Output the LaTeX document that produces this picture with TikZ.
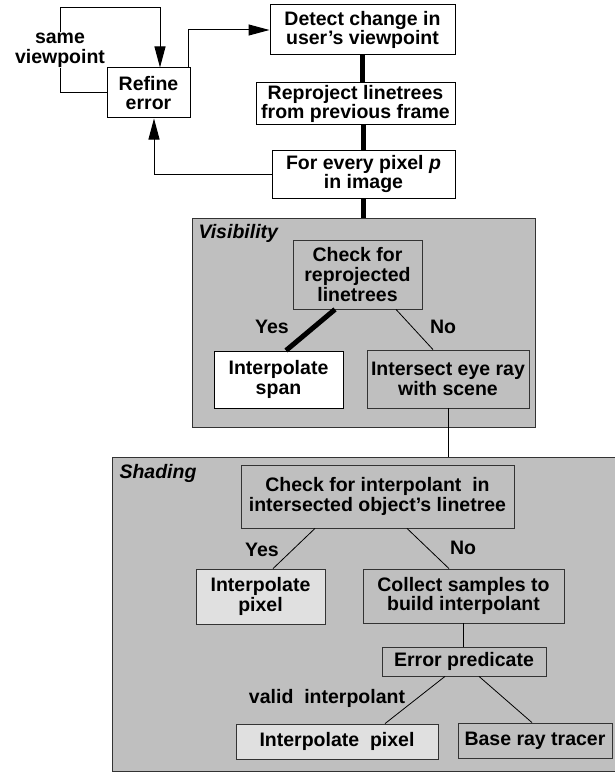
\documentclass[tikz,border=0pt]{standalone}
\usepackage{fontspec}
\setmainfont{Liberation Sans}
\usetikzlibrary{arrows.meta}
\definecolor{panelgrey}{gray}{0.75}
\definecolor{lightgrey}{gray}{0.88}
\newcommand{\stage}[6]{
	\node [#1, minimum width=#4, minimum height=#5] (#2) at (#3) {#6};
	}
\newcommand{\pix}[1]{\textit{#1}}

\begin{document}
\begin{tikzpicture}[
      x=1pt, y=-1pt, %one unit is one pixel of the reference
      font=\fontsize{19.5}{19.8}\selectfont\bfseries,
      box/.style={draw, line width=1pt, fill=white, align=center, inner sep=0pt},
      greybox/.style={box, draw=black!80, line width=0.8pt, fill=panelgrey},
      lightbox/.style={greybox, fill=lightgrey},
      panel/.style={draw=black!80, line width=1pt, fill=panelgrey, inner sep=0pt},
      flow/.style={line width=1pt, -{Triangle[length=21pt,width=11pt]}},
      trunk/.style={line width=5pt},
      branch/.style={line width=0.8pt},
      tag/.style={inner sep=1pt},
      title/.style={font=\fontsize{19.5}{19.8}\selectfont\bfseries\itshape, anchor=west}
    ]
    \useasboundingbox (0,0) rectangle (615,773);
    % The two grey panels
    \node[panel, minimum width=343, minimum height=209] (vis) at (363.5,322.5) {};
    \node[panel, minimum width=513, minimum height=314.5] (shad) at (368.5,614.25) {};
    \node[title] (vistitle) at (195,233) {Visibility};
    \node[title] (shadtitle) at (116,473) {Shading};
    % The frame loop
    \stage{box}{refine}{148.5,93}{83}{50}{Refine\\error};
    \stage{box}{detect}{362.5,30}{185}{50}{Detect change in\\user’s viewpoint};
    \stage{box}{reproj}{355.5,104}{199}{42}{Reproject linetrees\\from previous frame};
    \stage{box}{forevery}{363.5,174}{183}{48}{For every pixel \pix{p}\\in image};
    \coordinate (loopcorner) at (60,8);
    \draw[flow] (refine.west) -| (loopcorner) -| ([xshift=11.5]refine.north);
    \node[fill=white, align=center, inner sep=1pt] (samevp) at (60,50) {same\\viewpoint};
    \draw[flow] ([xshift=39.5]refine.north) |- (detect.west);
    \draw[flow] (forevery.west) -| ([xshift=5.5]refine.south);
    \draw[trunk] (detect.south) -- (detect.south |- reproj.north);
    \draw[trunk] (forevery.north |- reproj.south) -- (forevery.north);
    \draw[trunk] (forevery.south) -- (forevery.south |- vis.north);
    % Visibility
    \stage{greybox}{checkrep}{357.5,274.5}{129}{69}{Check for\\reprojected\\linetrees};
    \stage{box}{span}{278.5,379.5}{129}{57}{Interpolate\\span};
    \stage{greybox}{intersect}{448,379}{162}{58}{Intersect eye ray\\with scene};
    \draw[trunk] ([xshift=-22.5]checkrep.south) -- ([xshift=7.5]span.north);
    \draw[branch] ([xshift=38.5]checkrep.south) -- ([xshift=-15]intersect.north);
    \node[tag] (visyes) at (272,327) {Yes};
    \node[tag] (visno) at (443,327) {No};
    \draw[branch] (intersect.south) -- (intersect.south |- shad.north);
    % Shading
    \stage{greybox}{checkint}{377.5,496.5}{273}{63}{Check for interpolant\ \ in\\intersected object’s linetree};
    \stage{lightbox}{pixel}{260.5,596.5}{129}{55}{Interpolate\\pixel};
    \stage{greybox}{collect}{463.5,596}{201}{54}{Collect samples to\\build interpolant};
    \stage{greybox}{errpred}{464,661.5}{164}{29}{Error predicate};
    \stage{lightbox}{pixelb}{337,741.5}{202}{35}{Interpolate\ \ pixel};
    \stage{greybox}{tracer}{535,740.5}{154}{35}{Base ray tracer};
    \draw[branch] ([xshift=-62.5]checkint.south) -- ([xshift=12.5]pixel.north);
    \draw[branch] ([xshift=29.5]checkint.south) -- ([xshift=-14.5]collect.north);
    \node[tag] (shadyes) at (262,550) {Yes};
    \node[tag] (shadno) at (463,548) {No};
    \draw[branch] (collect.south) -- (collect.south |- errpred.north);
    \draw[branch] ([xshift=-19]errpred.south) -- ([xshift=48]pixelb.north);
    \draw[branch] ([xshift=15]errpred.south) -- ([xshift=-3]tracer.north);
    \node[tag] (validint) at (327,698) {valid\ \ interpolant};
\end{tikzpicture}
\end{document}
